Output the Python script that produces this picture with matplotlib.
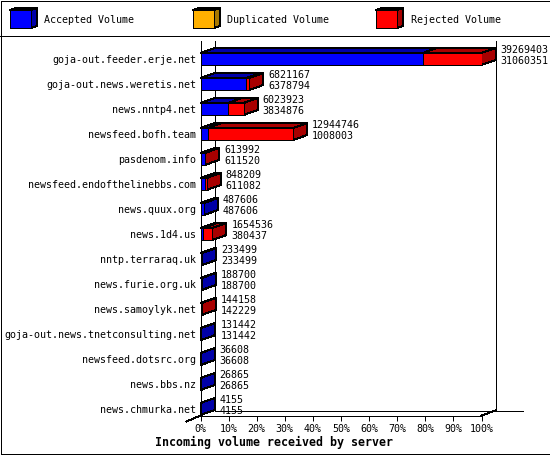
import matplotlib
matplotlib.use("Agg")
import matplotlib.pyplot as plt
from matplotlib.patches import Polygon, Rectangle

# Dados
servers = ["goja-out.feeder.erje.net", "goja-out.news.weretis.net", "news.nntp4.net",
           "newsfeed.bofh.team", "pasdenom.info", "newsfeed.endofthelinebbs.com",
           "news.quux.org", "news.1d4.us", "nntp.terraraq.uk", "news.furie.org.uk",
           "news.samoylyk.net", "goja-out.news.tnetconsulting.net", "newsfeed.dotsrc.org",
           "news.bbs.nz", "news.chmurka.net"]
total = [39269403, 6821167, 6023923, 12944746, 613992, 848209, 487606, 1654536,
         233499, 188700, 144158, 131442, 36608, 26865, 4155]
accepted = [31060351, 6378794, 3834876, 1008003, 611520, 611082, 487606, 380437,
            233499, 188700, 142229, 131442, 36608, 26865, 4155]
legend_names = ["Accepted Volume", "Duplicated Volume", "Rejected Volume"]
xticks = [0, 10, 20, 30, 40, 50, 60, 70, 80, 90, 100]

# Estilo
plt.rcParams["font.family"] = "DejaVu Sans Mono"
plt.rcParams["font.size"] = 7.2
plt.rcParams["lines.antialiased"] = False
plt.rcParams["patch.antialiased"] = False
plt.rcParams["axes.linewidth"] = 0.72

W, H = 550, 455
L, R, T, B = 200.5, 481.5, 40.5, 415.5
LW = 0.72
FRONT = {"blue": "#0000ff", "orange": "#ffb000", "red": "#ff0000"}
DARK = {"blue": "#0000a8", "orange": "#a87800", "red": "#a80000"}

fig = plt.figure(figsize=(W / 100, H / 100), dpi=100)

# Camada de fundo em pixeis: moldura e legenda
bg = fig.add_axes([0, 0, 1, 1])
bg.set_xlim(0, W)
bg.set_ylim(H, 0)
bg.axis("off")
bg.add_patch(Rectangle((0.5, 0.5), W - 1, H - 1.5, fc="white", ec="black", lw=LW))
bg.plot([0, W], [35.5, 35.5], color="black", lw=LW)
for name, col, x0, tx in zip(legend_names, ["blue", "orange", "red"], [10, 193, 376], [44, 227, 411]):
    bg.add_patch(Polygon([(x0, 10), (x0 + 6, 8), (x0 + 27, 8), (x0 + 21, 10)], fc=DARK[col], ec="black", lw=LW))
    bg.add_patch(Polygon([(x0 + 21, 10), (x0 + 27, 8), (x0 + 27, 26), (x0 + 21, 28)], fc=DARK[col], ec="black", lw=LW))
    bg.add_patch(Rectangle((x0, 10), 21, 18, fc=FRONT[col], ec="black", lw=LW))
    bg.text(tx, 20, name, ha="left", va="center")

# Eixos do grafico
ax = fig.add_axes([L / W, 1 - B / H, (R - L) / W, (B - T) / H])
ax.patch.set_alpha(0)
ax.set_xlim(0, 100)
ax.set_ylim((B - 59) / 25, (T - 59) / 25)
for s in ["top", "right"]:
    ax.spines[s].set_visible(False)
ax.set_xticks(xticks)
ax.set_xticklabels([f"{t}%" for t in xticks])
ax.set_yticks(range(len(servers)))
ax.set_yticklabels(servers)
ax.tick_params(axis="x", length=3.6, width=LW, pad=2.5)
ax.tick_params(axis="y", length=0, pad=3)

DX = 14 * 100 / (R - L)
DY = 5 / 25
HALF = 6 / 25
ymin, ymax = ax.get_ylim()

# Paredes de fundo
back = dict(color="black", lw=LW, clip_on=False, zorder=1)
ax.plot([DX, DX], [ymin - DY, ymax], **back)
ax.plot([100 + DX, 100 + DX], [ymin - DY, ymax], **back)
ax.plot([DX, 114.6], [ymin - DY, ymin - DY], **back)
ax.plot([100, 100 + DX], [ymin, ymin - DY], **back)
ax.plot([-DX, 0], [ymin + 6 / 25, ymin], **back)

# Barras
scale = 100 / max(total)
for i in range(len(servers)):
    a = accepted[i] * scale
    t = total[i] * scale
    top = i - HALF
    bottom = i + HALF
    segs = [(0, a, "blue"), (a, t, "red")]
    segs = [s for s in segs if s[1] > s[0]]
    for x0, x1, col in segs:
        ax.barh(i, x1 - x0, left=x0, height=2 * HALF, color=FRONT[col], edgecolor="black", lw=LW, zorder=3)
        ax.add_patch(Polygon([(x0, top), (x1, top), (x1 + DX, top - DY), (x0 + DX, top - DY)],
                             fc=DARK[col], ec="black", lw=LW, clip_on=False, zorder=2))
    end_col = segs[-1][2]
    ax.add_patch(Polygon([(t, top), (t + DX, top - DY), (t + DX, bottom - DY), (t, bottom)],
                         fc=DARK[end_col], ec="black", lw=LW, clip_on=False, zorder=2))
    ax.annotate(str(total[i]), (t + DX, i), xytext=(3.6, 6.5), textcoords="offset points",
                ha="left", va="center", annotation_clip=False, zorder=4)
    ax.annotate(str(accepted[i]), (t + DX, i), xytext=(3.6, -1.4), textcoords="offset points",
                ha="left", va="center", annotation_clip=False, zorder=4)

fig.text(274 / W, 1 - 442 / H, "Incoming volume received by server", ha="center", va="center",
         fontweight="bold", fontsize=8.4)

fig.savefig("out.png", dpi=100)
